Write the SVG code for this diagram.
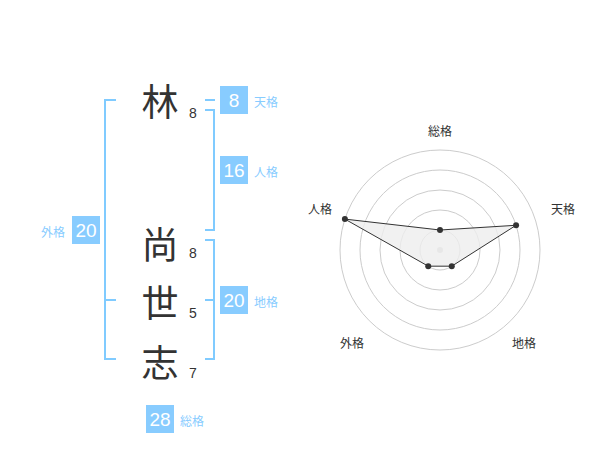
<svg xmlns="http://www.w3.org/2000/svg" width="600" height="470" viewBox="0 0 600 470">
<style>
.ch{font-family:"Noto Sans CJK JP","Noto Sans CJK SC",sans-serif;font-size:37px;fill:#333;text-anchor:middle;dominant-baseline:central}
.st{font-family:"Liberation Sans",Arial,sans-serif;font-size:14px;fill:#333;text-anchor:middle;dominant-baseline:central}
.br{fill:none;stroke:#80cbff;stroke-width:2}
.box{fill:#88ccff}
.bn{font-family:"Liberation Sans",Arial,sans-serif;font-size:19px;fill:#fff;text-anchor:middle;dominant-baseline:central}
.lb{font-family:"Noto Sans CJK JP","Noto Sans CJK SC",sans-serif;font-size:12px;fill:#88ccff;dominant-baseline:central}
.ring{fill:none;stroke:#ccc;stroke-width:1}
.rl{font-family:"Noto Sans CJK JP","Noto Sans CJK SC",sans-serif;font-size:12px;fill:#333;text-anchor:middle;dominant-baseline:central}
.pt{fill:#333}
</style>
<rect width="600" height="470" fill="#fff"/>
<g id="connectors">
<path class="br" d="M116,100 H105 V359 H116 M105,300 H116"/>
<path class="br" d="M205,100 H215"/>
<path class="br" d="M205,110 H214 V230 H205"/>
<path class="br" d="M205,240 H214 V359 H205 M214,300 H205"/>
</g>
<g id="char-1"><text class="ch" x="160" y="100">林</text><text class="st" x="193" y="113">8</text></g>
<g id="char-2"><text class="ch" x="160" y="243">尚</text><text class="st" x="193" y="253">8</text></g>
<g id="char-3"><text class="ch" x="160" y="301">世</text><text class="st" x="193" y="313">5</text></g>
<g id="char-4"><text class="ch" x="160" y="361">志</text><text class="st" x="193" y="373">7</text></g>
<g id="tenkaku"><rect class="box" x="220" y="86" width="28" height="28"/><text class="bn" x="234" y="100">8</text><text class="lb" x="254" y="101">天格</text></g>
<g id="jinkaku"><rect class="box" x="220" y="156" width="28" height="28"/><text class="bn" x="234" y="170">16</text><text class="lb" x="254" y="171">人格</text></g>
<g id="chikaku"><rect class="box" x="220" y="286" width="28" height="28"/><text class="bn" x="234" y="300">20</text><text class="lb" x="254" y="301">地格</text></g>
<g id="gaikaku"><rect class="box" x="72" y="216" width="28" height="28"/><text class="bn" x="86" y="230">20</text><text class="lb" x="41" y="231">外格</text></g>
<g id="soukaku"><rect class="box" x="146" y="405" width="28" height="28"/><text class="bn" x="160" y="419">28</text><text class="lb" x="180" y="420">総格</text></g>
<g id="radar">
<circle class="ring" cx="440" cy="250" r="20"/>
<circle class="ring" cx="440" cy="250" r="40"/>
<circle class="ring" cx="440" cy="250" r="60"/>
<circle class="ring" cx="440" cy="250" r="80"/>
<circle class="ring" cx="440" cy="250" r="100"/>
<circle cx="440" cy="250" r="3" fill="#ccc"/>
<polygon points="440,230 516.08,225.28 451.76,266.18 428.24,266.18 344.89,219.10" fill="#eee" fill-opacity="0.8" stroke="#333" stroke-width="1"/>
<circle class="pt" cx="440" cy="230" r="3"/>
<circle class="pt" cx="516.08" cy="225.28" r="3"/>
<circle class="pt" cx="451.76" cy="266.18" r="3"/>
<circle class="pt" cx="428.24" cy="266.18" r="3"/>
<circle class="pt" cx="344.89" cy="219.10" r="3"/>
<text class="rl" x="440" y="130">総格</text>
<text class="rl" x="563" y="208">天格</text>
<text class="rl" x="524" y="342">地格</text>
<text class="rl" x="352" y="342">外格</text>
<text class="rl" x="320" y="208">人格</text>
</g>
</svg>
